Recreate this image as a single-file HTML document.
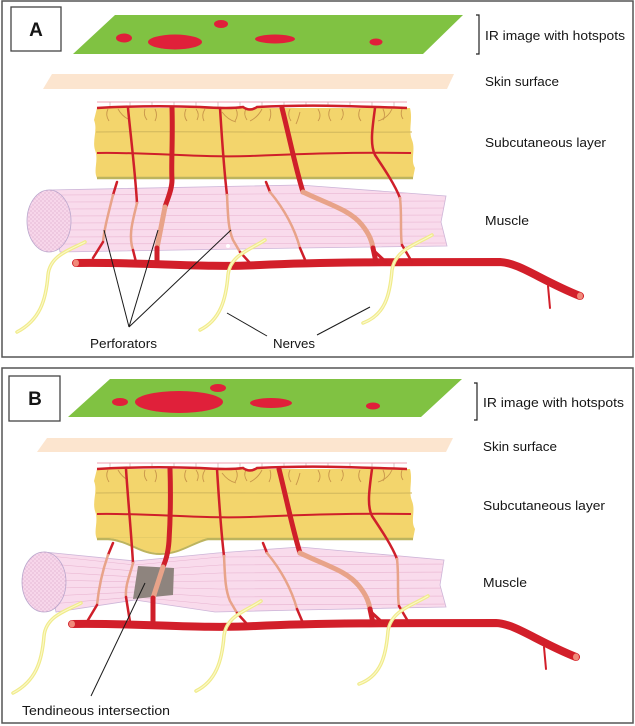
<!DOCTYPE html>
<html><head><meta charset="utf-8"><style>
html,body{margin:0;padding:0;background:#fff;}
svg{display:block;}
text{font-family:"Liberation Sans",sans-serif;fill:#151515;}
</style></head><body>
<svg width="635" height="726" viewBox="0 0 635 726" xmlns="http://www.w3.org/2000/svg">
<defs>
<pattern id="dots" width="4" height="4" patternUnits="userSpaceOnUse">
<rect width="4" height="4" fill="#f7d6ea"/>
<circle cx="1" cy="1" r="0.6" fill="#d9a6c8"/>
<circle cx="3" cy="3" r="0.6" fill="#d9a6c8"/>
</pattern>
<clipPath id="mA"><path d="M49,190 L300,185 L446,196 L441,222 L447,246 L300,248 L60,252 Z"/></clipPath>
<clipPath id="mB"><path d="M44,552 L135,561 L217,553 L300,547 L444,560 L440,585 L446,607 L300,610 L215,612 L135,600 L56,612 Z"/></clipPath>

<g id="sub">
<path d="M97,108 L410,108 C413,120 408,130 412,140 C416,150 410,160 415,168 L413,178 L97,178 C93,170 99,160 95,150 C92,140 98,130 94,120 Z" fill="#f3d56c"/>
<line x1="97" y1="178" x2="413" y2="178" stroke="#bdb45e" stroke-width="2.5"/>
<path d="M96,132 C200,131 300,133 412,132" stroke="#d0b65c" stroke-width="1" fill="none"/>
<line x1="97" y1="102" x2="407" y2="102" stroke="#f0a2b2" stroke-width="1"/>
<g stroke="#c9a0a0" stroke-width="0.6">
<line x1="110" y1="102" x2="110" y2="107"/><line x1="130" y1="102" x2="130" y2="107"/><line x1="152" y1="102" x2="152" y2="107"/><line x1="174" y1="102" x2="174" y2="107"/><line x1="196" y1="102" x2="196" y2="107"/><line x1="218" y1="102" x2="218" y2="107"/><line x1="240" y1="102" x2="240" y2="107"/><line x1="262" y1="102" x2="262" y2="107"/><line x1="284" y1="102" x2="284" y2="107"/><line x1="306" y1="102" x2="306" y2="107"/><line x1="328" y1="102" x2="328" y2="107"/><line x1="350" y1="102" x2="350" y2="107"/><line x1="372" y1="102" x2="372" y2="107"/><line x1="394" y1="102" x2="394" y2="107"/>
</g>
<g stroke="#c8954a" stroke-width="0.9" fill="none">
<path d="M108,109 q-3,6 1,12"/><path d="M118,109 q4,7 10,10"/><path d="M145,109 q-2,6 2,11"/><path d="M155,109 q3,6 0,12"/><path d="M186,109 q-3,7 1,12"/><path d="M196,109 q4,5 1,11"/><path d="M205,109 q-4,6 -1,12"/><path d="M236,109 q3,6 -1,12"/><path d="M246,109 q-3,5 1,11"/><path d="M262,109 q-4,8 -12,12"/><path d="M270,109 q2,6 -1,12"/><path d="M290,109 q-3,6 1,12"/><path d="M318,109 q4,7 0,12"/><path d="M330,109 q-3,6 1,12"/><path d="M342,109 q3,6 -1,11"/><path d="M360,109 q-3,7 1,12"/><path d="M392,109 q-4,9 -14,12"/><path d="M222,112 q6,8 14,10"/><path d="M300,112 q-2,8 -4,12"/><path d="M383,109 q3,6 0,11"/><path d="M402,109 q-2,6 1,10"/>
</g>
<path d="M97,108 Q150,105 200,107 Q230,109 243,107 Q250,112 257,107 Q300,105 340,106 Q380,107 407,108" stroke="#cf1f2a" stroke-width="2.5" fill="none"/>
<path d="M97,153 C150,152 200,158 250,156 S350,152 411,153" stroke="#cf1f2a" stroke-width="2" fill="none"/>
</g>

<g id="vcommon" fill="none" stroke-linecap="round">
<path d="M220,108 C222,140 224,170 227,195" stroke="#cf1f2a" stroke-width="2.5"/>
<path d="M227,195 C228,215 228,228 233,240 L240,252" stroke="#e8a389" stroke-width="2.5"/>
<path d="M240,252 L250,263" stroke="#cf1f2a" stroke-width="2.5"/>
<path d="M282,108 C290,140 296,170 303,192" stroke="#cf1f2a" stroke-width="5"/>
<path d="M303,192 C330,205 350,210 362,225 C370,235 372,242 373,248" stroke="#e8a389" stroke-width="5"/>
<path d="M373,248 L376,262" stroke="#cf1f2a" stroke-width="5"/>
<path d="M373,250 L386,262" stroke="#cf1f2a" stroke-width="3"/>
<path d="M375,108 C372,130 370,145 375,155 C385,170 395,185 400,198" stroke="#cf1f2a" stroke-width="2.5"/>
<path d="M400,198 C402,215 400,235 402,245" stroke="#e8a389" stroke-width="2.5"/>
<path d="M402,245 L412,262" stroke="#cf1f2a" stroke-width="2.5"/>
<path d="M266,182 L270,192" stroke="#cf1f2a" stroke-width="2.5"/>
<path d="M270,192 C285,210 295,230 300,248" stroke="#e8a389" stroke-width="2.5"/>
<path d="M300,248 L306,262" stroke="#cf1f2a" stroke-width="2.5"/>
</g>

<g id="artery" fill="none" stroke-linecap="round">
<path d="M76,263 C150,262 200,268 260,265 S400,262 500,262 C520,263 540,280 580,296" stroke="#d21f2a" stroke-width="8"/>
<path d="M548,286 L550,308" stroke="#d21f2a" stroke-width="2"/>
<ellipse cx="76" cy="263" rx="3" ry="3.5" fill="#f08a7a"/>
<ellipse cx="580" cy="296" rx="3" ry="3.5" fill="#f08a7a"/>
</g>

<g id="nerves" fill="none" stroke-linecap="round">
<g stroke="#f0eb8a" stroke-width="3.5">
<path d="M85,242 C70,250 50,255 48,275 C46,300 40,320 17,332"/>
<path d="M265,240 C250,250 230,255 228,275 C226,300 220,320 200,330"/>
<path d="M432,235 C415,245 395,250 392,270 C390,295 385,315 363,323"/>
</g>
<g stroke="#fbf8c8" stroke-width="1.2">
<path d="M85,242 C70,250 50,255 48,275 C46,300 40,320 17,332"/>
<path d="M265,240 C250,250 230,255 228,275 C226,300 220,320 200,330"/>
<path d="M432,235 C415,245 395,250 392,270 C390,295 385,315 363,323"/>
</g>
</g>
</defs>

<!-- ================= PANEL A ================= -->
<rect x="2" y="1" width="631" height="356" fill="none" stroke="#555" stroke-width="1.5"/>
<rect x="11" y="7" width="50" height="44" fill="#fff" stroke="#444" stroke-width="1.3"/>
<text x="36" y="36" font-size="19" font-weight="bold" text-anchor="middle">A</text>

<polygon points="115,15 463,15 423,54 73,54" fill="#80c242"/>
<g fill="#e0203a">
<ellipse cx="124" cy="38" rx="8" ry="4.5"/>
<ellipse cx="175" cy="42" rx="27" ry="7.5"/>
<ellipse cx="221" cy="24" rx="7" ry="4"/>
<ellipse cx="275" cy="39" rx="20" ry="4.5"/>
<ellipse cx="376" cy="42" rx="6.5" ry="3.5"/>
</g>
<path d="M476,15 L479,15 L479,54 L476,54" fill="none" stroke="#222" stroke-width="1.2"/>
<text x="485" y="40" font-size="13" textLength="140" lengthAdjust="spacingAndGlyphs">IR image with hotspots</text>

<polygon points="52,74 454,74 447,89 43,89" fill="#fce5cf"/>
<text x="485" y="86" font-size="13" textLength="74" lengthAdjust="spacingAndGlyphs">Skin surface</text>

<use href="#sub"/>
<text x="485" y="147" font-size="13" textLength="121" lengthAdjust="spacingAndGlyphs">Subcutaneous layer</text>

<!-- muscle A -->
<path d="M49,190 L300,185 L446,196 L441,222 L447,246 L300,248 L60,252 Z" fill="#f9dbec" stroke="#cdb5d8" stroke-width="0.8"/>
<g clip-path="url(#mA)" stroke="#e8b4d0" stroke-width="0.6">
<line x1="60" y1="195" x2="450" y2="193"/><line x1="60" y1="202" x2="450" y2="201"/><line x1="60" y1="209" x2="450" y2="208"/><line x1="60" y1="216" x2="450" y2="215"/><line x1="60" y1="223" x2="450" y2="222"/><line x1="60" y1="230" x2="450" y2="229"/><line x1="60" y1="237" x2="450" y2="236"/><line x1="60" y1="244" x2="450" y2="243"/>
</g>
<ellipse cx="49" cy="221" rx="22" ry="31" fill="url(#dots)" stroke="#b9a6cc" stroke-width="0.8"/>
<text x="485" y="225" font-size="13" textLength="44" lengthAdjust="spacingAndGlyphs">Muscle</text>

<use href="#artery"/>
<!-- A specific vessels -->
<g fill="none" stroke-linecap="round">
<path d="M128,108 C130,130 135,170 137,203" stroke="#cf1f2a" stroke-width="2.5"/>
<path d="M137,203 C133,220 128,235 133,250" stroke="#e8a389" stroke-width="2.5"/>
<path d="M133,250 L136,262" stroke="#cf1f2a" stroke-width="2.5"/>
<path d="M172,108 C173,140 171,165 172,180 C172,190 167,200 165,207" stroke="#cf1f2a" stroke-width="5"/>
<path d="M165,207 L157,248" stroke="#e8a389" stroke-width="5"/>
<path d="M157,248 L157,262" stroke="#cf1f2a" stroke-width="5"/>
<path d="M117,182 L113,195" stroke="#cf1f2a" stroke-width="2.5"/>
<path d="M113,195 C108,215 104,230 103,242" stroke="#e8a389" stroke-width="2.5"/>
<path d="M103,242 L93,258" stroke="#cf1f2a" stroke-width="2.5"/>
</g>
<use href="#vcommon"/>
<circle cx="228" cy="246" r="2" fill="#fff"/>
<use href="#nerves"/>

<g stroke="#1a1a1a" stroke-width="1">
<line x1="129" y1="327" x2="104" y2="230"/>
<line x1="129" y1="327" x2="158" y2="230"/>
<line x1="129" y1="327" x2="231" y2="230"/>
<line x1="267" y1="336" x2="227" y2="313"/>
<line x1="317" y1="335" x2="370" y2="307"/>
</g>
<text x="90" y="348" font-size="13" textLength="67" lengthAdjust="spacingAndGlyphs">Perforators</text>
<text x="273" y="348" font-size="13" textLength="42" lengthAdjust="spacingAndGlyphs">Nerves</text>

<!-- ================= PANEL B ================= -->
<rect x="2" y="368" width="631" height="355" fill="none" stroke="#555" stroke-width="1.5"/>
<rect x="9" y="376" width="51" height="45" fill="#fff" stroke="#444" stroke-width="1.3"/>
<text x="35" y="405" font-size="19" font-weight="bold" text-anchor="middle">B</text>

<polygon points="110,379 462,379 421,417 68,417" fill="#80c242"/>
<g fill="#e0203a">
<ellipse cx="120" cy="402" rx="8" ry="4"/>
<ellipse cx="179" cy="402" rx="44" ry="11"/>
<ellipse cx="218" cy="388" rx="8" ry="4"/>
<ellipse cx="271" cy="403" rx="21" ry="5"/>
<ellipse cx="373" cy="406" rx="7" ry="3.5"/>
</g>
<path d="M474,383 L477,383 L477,420 L474,420" fill="none" stroke="#222" stroke-width="1.2"/>
<text x="483" y="407" font-size="13" textLength="141" lengthAdjust="spacingAndGlyphs">IR image with hotspots</text>

<polygon points="47,438 453,438 446,452 37,452" fill="#fce5cf"/>
<text x="483" y="451" font-size="13" textLength="74" lengthAdjust="spacingAndGlyphs">Skin surface</text>

<use href="#sub" transform="translate(0,361)"/>
<path d="M108,538 C130,540 140,553 160,553 C180,553 192,542 208,538 Z" fill="#f3d56c"/>
<path d="M108,539 C130,541 140,554 160,554 C180,554 192,543 208,539" fill="none" stroke="#bdb45e" stroke-width="2"/>
<text x="483" y="510" font-size="13" textLength="122" lengthAdjust="spacingAndGlyphs">Subcutaneous layer</text>

<!-- muscle B -->
<path d="M44,552 L135,561 L217,553 L300,547 L444,560 L440,585 L446,607 L300,610 L215,612 L135,600 L56,612 Z" fill="#f9dbec" stroke="#cdb5d8" stroke-width="0.8"/>
<g clip-path="url(#mB)" stroke="#e8b4d0" stroke-width="0.6">
<path d="M50,556 L135,565 L220,557 L450,556" fill="none"/>
<path d="M50,564 L135,571 L220,565 L450,564" fill="none"/>
<path d="M50,572 L135,577 L220,573 L450,572" fill="none"/>
<path d="M50,580 L135,582 L220,581 L450,580" fill="none"/>
<path d="M50,588 L135,587 L220,589 L450,588" fill="none"/>
<path d="M50,596 L135,592 L220,597 L450,596" fill="none"/>
<path d="M50,604 L135,597 L220,605 L450,604" fill="none"/>
</g>
<ellipse cx="44" cy="582" rx="22" ry="30" fill="url(#dots)" stroke="#b9a6cc" stroke-width="0.8"/>
<polygon points="138,566 174,568 173,595 133,599" fill="#8e847e"/>
<text x="483" y="587" font-size="13" textLength="44" lengthAdjust="spacingAndGlyphs">Muscle</text>

<use href="#artery" transform="translate(-4,361)"/>
<g fill="none" stroke-linecap="round">
<path d="M126,469 C128,500 131,530 133,563" stroke="#cf1f2a" stroke-width="2.5"/>
<path d="M133,563 C130,575 125,585 126,597" stroke="#e8a389" stroke-width="2.5"/>
<path d="M126,597 L130,622" stroke="#cf1f2a" stroke-width="2.5"/>
<path d="M170,469 C171,500 170,525 169,541 C168,555 165,562 163,567" stroke="#cf1f2a" stroke-width="5"/>
<path d="M163,567 L153,598" stroke="#e8a389" stroke-width="5"/>
<path d="M153,598 L153,622" stroke="#cf1f2a" stroke-width="5"/>
<path d="M113,543 L108,555" stroke="#cf1f2a" stroke-width="2.5"/>
<path d="M108,555 C101,575 98,595 97,605" stroke="#e8a389" stroke-width="2.5"/>
<path d="M97,605 L88,620" stroke="#cf1f2a" stroke-width="2.5"/>
</g>
<use href="#vcommon" transform="translate(-3,361)"/>
<use href="#nerves" transform="translate(-4,361)"/>

<line x1="91" y1="696" x2="145" y2="583" stroke="#1a1a1a" stroke-width="1"/>
<text x="22" y="715" font-size="13" textLength="148" lengthAdjust="spacingAndGlyphs">Tendineous intersection</text>
</svg>
</body></html>
